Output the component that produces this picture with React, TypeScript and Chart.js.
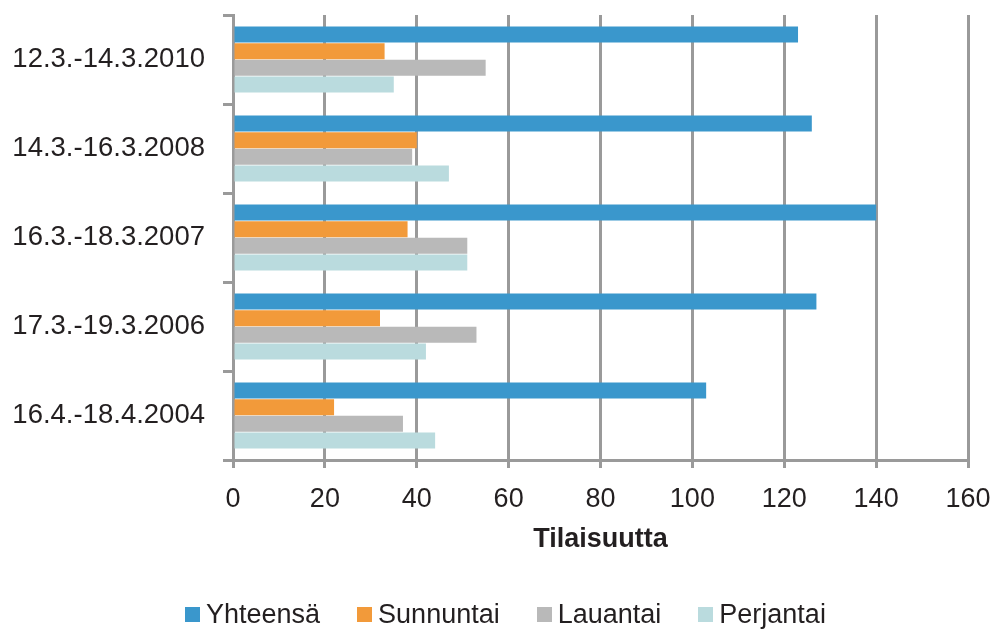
import React, { useEffect, useRef } from "react";
import { Chart, registerables } from "chart.js";

Chart.register(...registerables);

const categories = [
  "12.3.-14.3.2010",
  "14.3.-16.3.2008",
  "16.3.-18.3.2007",
  "17.3.-19.3.2006",
  "16.4.-18.4.2004",
];
const seriesNames = ["Yhteensä", "Sunnuntai", "Lauantai", "Perjantai"];
const yhteensa = [123, 126, 140, 127, 103];
const sunnuntai = [33, 40, 38, 32, 22];
const lauantai = [55, 39, 51, 53, 37];
const perjantai = [35, 47, 51, 42, 44];
const xTicks = [0, 20, 40, 60, 80, 100, 120, 140, 160];
const xTitle = "Tilaisuutta";

const colors = ["#3A97CC", "#F29A3A", "#B9B9B9", "#BADBDE"];
const FONT = "'Liberation Sans', Arial, Helvetica, sans-serif";
const TEXT = "#231F20";
const GRID = "#9A9A9A";

export default function App() {
  const ref = useRef<HTMLCanvasElement | null>(null);

  useEffect(() => {
    if (!ref.current) return;
    const values = [yhteensa, sunnuntai, lauantai, perjantai];
    const chart = new Chart(ref.current, {
      type: "bar",
      data: {
        labels: categories,
        datasets: seriesNames.map((name, i) => ({
          label: name,
          data: values[i],
          backgroundColor: colors[i],
          borderWidth: 0,
          categoryPercentage: 0.75,
          barPercentage: 0.96,
        })),
      },
      options: {
        indexAxis: "y",
        responsive: false,
        animation: false,
        layout: { padding: { top: 15, right: 25, left: 0, bottom: 70 } },
        plugins: {
          legend: { display: false },
          tooltip: { enabled: false },
        },
        scales: {
          x: {
            min: 0,
            max: 160,
            afterBuildTicks: (scale: any) => {
              scale.ticks = xTicks.map((v) => ({ value: v }));
            },
            afterFit: (scale: any) => {
              scale.height = 100;
              scale.paddingLeft = 0;
              scale.paddingRight = 0;
            },
            grid: {
              color: GRID,
              lineWidth: 3,
              tickLength: 8,
              drawTicks: true,
            },
            border: { display: true, color: GRID, width: 3 },
            ticks: {
              color: TEXT,
              font: { family: FONT, size: 27 },
              padding: 15,
              maxRotation: 0,
            },
            title: {
              display: true,
              text: xTitle,
              color: TEXT,
              font: { family: FONT, size: 27, weight: "bold" },
              padding: { top: 6, bottom: 4 },
            },
          },
          y: {
            afterFit: (scale: any) => {
              scale.width = 233;
              scale.paddingTop = 0;
              scale.paddingBottom = 0;
            },
            grid: {
              display: true,
              drawOnChartArea: false,
              drawTicks: true,
              tickLength: 10,
              color: GRID,
              lineWidth: 3,
              offset: true,
            },
            border: { display: true, color: GRID, width: 3 },
            ticks: {
              color: TEXT,
              font: { family: FONT, size: 27.5 },
              padding: 18,
            },
          },
        },
      },
    });
    return () => chart.destroy();
  }, []);

  return (
    <div style={{ position: "fixed", left: 0, top: 0, width: 993, height: 630, background: "#fff" }}>
      <canvas ref={ref} width={993} height={630} style={{ display: "block" }} />
      <div
        style={{
          position: "absolute",
          left: 185,
          top: 599,
          display: "flex",
          alignItems: "center",
          gap: 37,
          fontFamily: FONT,
          fontSize: 27,
          lineHeight: "30px",
          color: TEXT,
          whiteSpace: "nowrap",
        }}
      >
        {seriesNames.map((name, i) => (
          <div key={name} style={{ display: "flex", alignItems: "center" }}>
            <span
              style={{
                display: "inline-block",
                width: 15,
                height: 15,
                background: colors[i],
                marginRight: 6,
              }}
            />
            <span>{name}</span>
          </div>
        ))}
      </div>
    </div>
  );
}
